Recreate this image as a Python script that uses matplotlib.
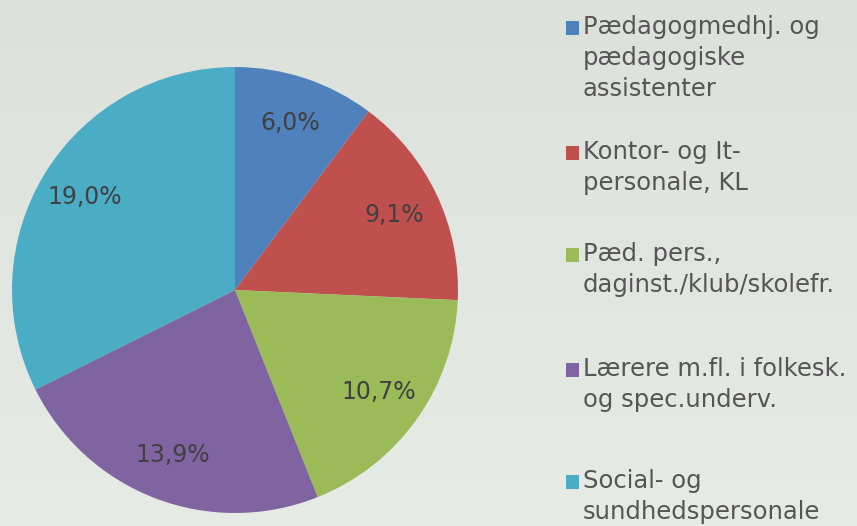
import matplotlib
matplotlib.use("Agg")
import matplotlib.pyplot as plt
import numpy as np
from matplotlib.patches import Rectangle
from matplotlib.colors import LinearSegmentedColormap

categories = [
    "Pædagogmedhj. og\npædagogiske\nassistenter",
    "Kontor- og It-\npersonale, KL",
    "Pæd. pers.,\ndaginst./klub/skolefr.",
    "Lærere m.fl. i folkesk.\nog spec.underv.",
    "Social- og\nsundhedspersonale",
]
values = [6.0, 9.1, 10.7, 13.9, 19.0]
colors = ["#4f81bd", "#c0504d", "#9bbb59", "#8064a2", "#4bacc6"]

W, H = 857, 526
fig = plt.figure(figsize=(W / 100, H / 100), dpi=100)

# background gradient
bg = fig.add_axes([0, 0, 1, 1])
grad = np.linspace(0, 1, 256).reshape(-1, 1)
cmap = LinearSegmentedColormap.from_list("bg", ["#dde1dc", "#e7ebe6"])
bg.imshow(grad, aspect="auto", cmap=cmap, extent=[0, 1, 0, 1], origin="upper")
bg.set_xlim(0, 1)
bg.set_ylim(0, 1)
bg.axis("off")

# pie
cx, cy, r = 235, 290, 223
ax = fig.add_axes([(cx - r) / W, (H - cy - r) / H, 2 * r / W, 2 * r / H])
total = sum(values)
wedges, texts, autotexts = ax.pie(
    values, colors=colors, startangle=90, counterclock=False,
    autopct=lambda p: f"{p * total / 100:.1f}%".replace(".", ","),
    pctdistance=0.79, radius=1.0,
    wedgeprops=dict(linewidth=0),
    textprops=dict(color="#404040", fontsize=17, family="DejaVu Sans"),
)
ax.set_xlim(-1, 1)
ax.set_ylim(-1, 1)
ax.set_aspect("equal")
ax.axis("off")

# legend
entry_y = [28, 153, 255, 370, 482]
for lab, col, y in zip(categories, colors, entry_y):
    bg.add_patch(Rectangle((566 / W, 1 - (y + 7) / H), 13 / W, 14 / H,
                           transform=fig.transFigure, color=col, lw=0))
    fig.text(583 / W, 1 - (y - 13) / H, lab, ha="left", va="top",
             fontsize=17.5, color="#555555", linespacing=1.38,
             family="DejaVu Sans")

fig.savefig("out.png", dpi=100)
